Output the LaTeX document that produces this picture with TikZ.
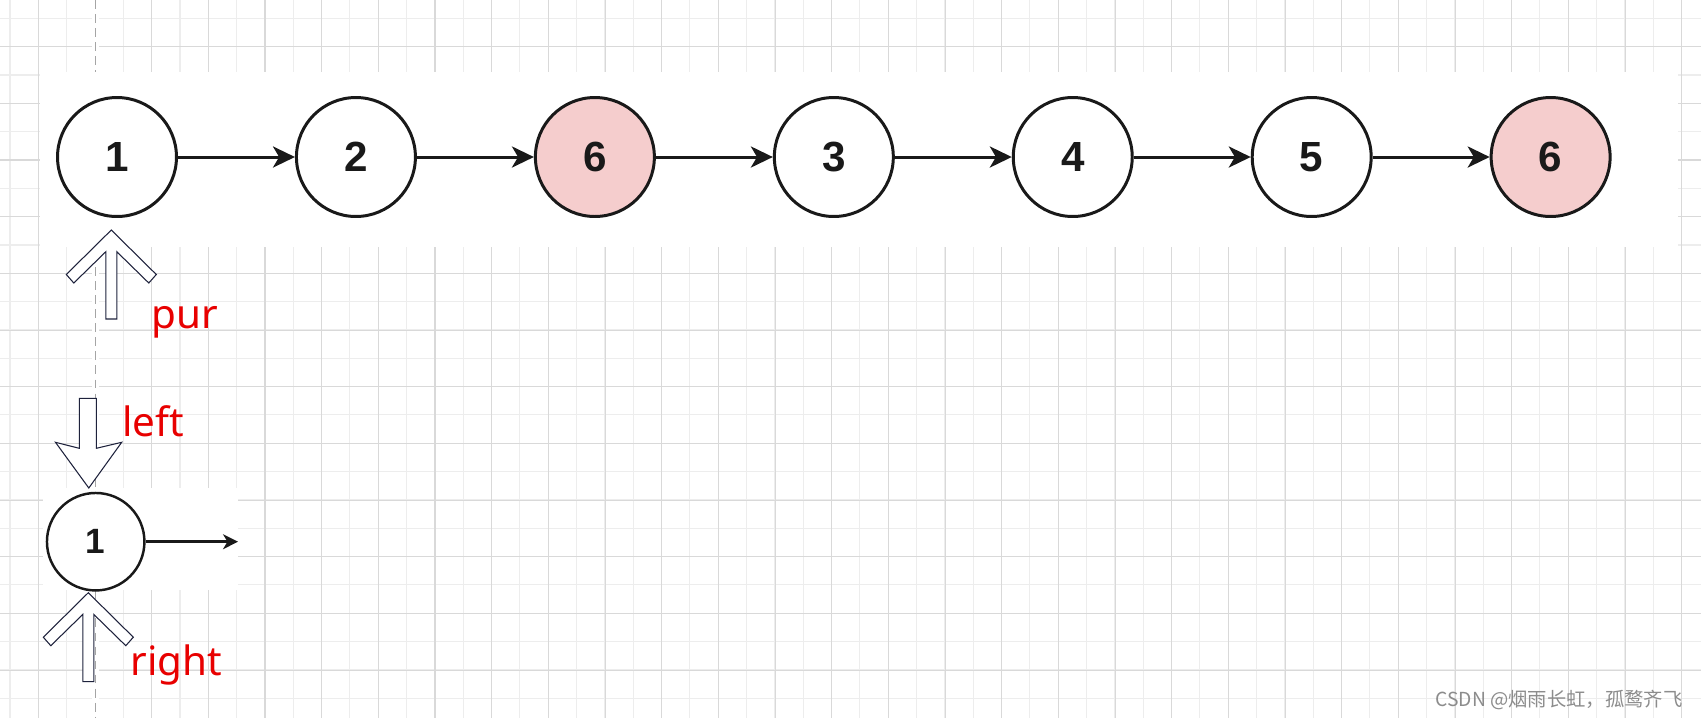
\documentclass[tikz,border=0pt]{standalone}
\usepackage{fontspec}
\setmainfont{Liberation Sans}
\newfontfamily\labelfont{Noto Sans}
\newfontfamily\cjkfont{Noto Sans CJK SC}
\usetikzlibrary{arrows.meta,positioning}
\definecolor{gridminor}{RGB}{237,237,237}
\definecolor{gridmajor}{RGB}{217,217,217}
\definecolor{guidegray}{RGB}{165,165,165}
\definecolor{dupfill}{RGB}{245,205,205}
\definecolor{nodeline}{RGB}{25,25,25}
\definecolor{labelred}{RGB}{232,0,0}
\definecolor{outline}{RGB}{30,34,60}
\tikzset{
  listnode/.style  = {draw=nodeline, circle, fill=white, line width=1.7pt,
                      minimum size=2.38cm, inner sep=0pt, text=nodeline,
                      font=\fontsize{24}{24}\selectfont\bfseries, node distance=2.34cm},
  dupnode/.style   = {listnode, fill=dupfill},
  smallnode/.style = {listnode, minimum size=1.95cm, line width=1.4pt,
                      font=\fontsize{20}{20}\selectfont\bfseries},
  pre/.style       = {<-, line width=1.7pt, draw=nodeline},
  post/.style      = {-{Stealth[length=8.5pt,width=8.5pt,inset=2.5pt]}, line width=1.4pt, draw=nodeline},
  hollow/.style    = {draw=outline, fill=white, line width=0.6pt, line join=miter},
  tag/.style       = {text=labelred, anchor=base west, inner sep=0pt,
                      font=\labelfont\fontsize{23}{23}\selectfont},
  pics/uparrow/.style = {code={
    \draw[hollow] (0,0) -- (45,44.5) -- (37.5,53) -- (5.5,21.7) -- (5.5,89)
      -- (-5.5,89) -- (-5.5,21.7) -- (-37.5,53) -- (-45,44.5) -- cycle;}}
}

\begin{document}
\begin{tikzpicture}[x=0.02cm, y=-0.02cm, >={Stealth[length=12.5pt,width=12pt,inset=3.5pt]}]
  \useasboundingbox (0,0) rectangle (1701,718);
  \fill[white] (0,0) rectangle (1701,718);

  % background grid, darker line every second step
  \foreach \i in {-1,...,58}
    \draw[gridminor, line width=0.6pt] ({38.33+28.33*\i},0) -- ++(0,718);
  \foreach \j in {0,...,24}
    \draw[gridminor, line width=0.6pt] (0,{18.33+28.33*\j}) -- ++(1701,0);
  \foreach \i in {0,...,29}
    \draw[gridmajor, line width=0.6pt] ({38.33+56.67*\i},0) -- ++(0,718);
  \foreach \j in {0,...,11}
    \draw[gridmajor, line width=0.6pt] (0,{46.67+56.67*\j}) -- ++(1701,0);
  \fill[white] (92,0) rectangle (98.5,718);
  \draw[guidegray, line width=0.6pt, dash pattern=on 5pt off 3pt] (95.3,0) -- (95.3,718);

  % white panels
  \fill[white] (40,71.7) rectangle (1678,246.7);
  \fill[white] (43,488) rectangle (238.3,590);

  % the list
  \node[listnode] (n1) at (117,157) {1};
  \node[listnode] (n2) [right=of n1] {2} edge [pre] (n1);
  \node[dupnode]  (n3) [right=of n2] {6} edge [pre] (n2);
  \node[listnode] (n4) [right=of n3] {3} edge [pre] (n3);
  \node[listnode] (n5) [right=of n4] {4} edge [pre] (n4);
  \node[listnode] (n6) [right=of n5] {5} edge [pre] (n5);
  \node[dupnode]  (n7) [right=of n6] {6} edge [pre] (n6);

  % single node below
  \coordinate (m1end) at (238,541.7);
  \node[smallnode] (m1) at (95.7,541.7) {1} edge [post] (m1end);

  % hollow pointers
  \pic at (111.3,230) {uparrow};
  \pic at (88.3,592.7) {uparrow};
  \draw[hollow] (79.3,398.3) -- (96.3,398.3) -- (96.3,448.3) -- (121.7,442.3)
    -- (88.8,488) -- (55.5,442.3) -- (79.3,448.3) -- cycle;

  \node[tag] (pur)   at (151,328)   {pur};
  \node[tag] (left)  at (121.7,436.7) {left};
  \node[tag] (right) at (130,675)   {right};

  \node[anchor=base west, inner sep=0pt, text=black!45,
        font=\cjkfont\fontsize{11}{11}\selectfont] (mark) at (1435,706) {CSDN @烟雨长虹，孤鹜齐飞};
\end{tikzpicture}
\end{document}
